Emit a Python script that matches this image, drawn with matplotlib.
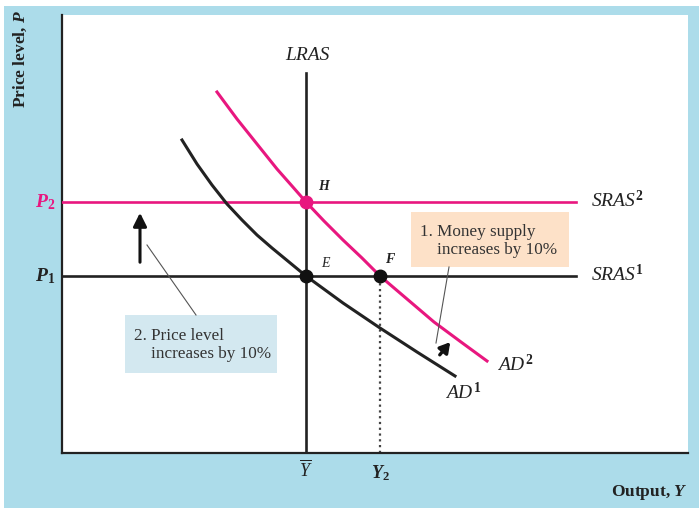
import matplotlib
matplotlib.use('Agg')
import matplotlib.pyplot as plt
from matplotlib.patches import Rectangle

plt.rcParams['font.family'] = ['Liberation Serif', 'DejaVu Serif']
plt.rcParams['mathtext.fontset'] = 'custom'
plt.rcParams['mathtext.rm'] = 'Liberation Serif'
plt.rcParams['mathtext.it'] = 'Liberation Serif:italic'
plt.rcParams['mathtext.bf'] = 'Liberation Serif:italic:bold'
plt.rcParams['mathtext.sf'] = 'Liberation Serif:bold'

PINK = '#e8177f'
BG = '#acdcea'

# levels (arbitrary units, no ticks shown)
y_bar = 244
y_2 = 318
p_1 = 177
p_2 = 251
lras_top = 380
sras_end = 514

# aggregate demand curves
ad1_x = [120, 135, 150, 165, 180, 195, 210, 227, 244, 281, 318, 355, 393]
ad1_y = [313, 289, 268, 249, 233, 218, 205, 191, 177, 150, 125, 101, 77]
ad2_x = [155, 175, 195, 215, 230, 244, 262, 281, 300, 318, 345, 372, 399, 425]
ad2_y = [361, 334, 309, 284, 267, 251, 232, 213, 195, 177, 154, 131, 111, 92]

fig = plt.figure(figsize=(6.99, 5.08), dpi=100, facecolor=BG)
fig.patches.append(Rectangle((0, 1 - 6 / 508), 1, 6 / 508, transform=fig.transFigure,
                             facecolor='white', edgecolor='none', zorder=0))
fig.patches.append(Rectangle((0, 0), 4 / 699, 1, transform=fig.transFigure,
                             facecolor='white', edgecolor='none', zorder=0))

ax = fig.add_axes([62 / 699, 55 / 508, 626 / 699, 438 / 508])
ax.set_facecolor('white')
ax.set_xlim(0, 626)
ax.set_ylim(0, 438)
ax.set_xticks([])
ax.set_yticks([])
for s in ['top', 'right']:
    ax.spines[s].set_visible(False)
for s in ['left', 'bottom']:
    ax.spines[s].set_linewidth(1.6)
    ax.spines[s].set_color('#222222')

# supply lines
ax.plot([0, sras_end], [p_1, p_1], color='#222222', lw=1.9, zorder=3)
ax.plot([0, sras_end], [p_2, p_2], color=PINK, lw=1.9, zorder=3)
ax.plot([y_bar, y_bar], [0, lras_top], color='#222222', lw=1.9, zorder=3)
ax.plot([y_2, y_2], [0, p_1], color='#444444', lw=1.6, ls=(0, (1, 1.6)), zorder=2)

# demand curves
ax.plot(ad1_x, ad1_y, color='#222222', lw=2.2, solid_joinstyle='round', zorder=4)
ax.plot(ad2_x, ad2_y, color=PINK, lw=2.2, solid_joinstyle='round', zorder=4)

# equilibrium points
ax.plot([y_bar], [p_2], 'o', color=PINK, ms=9, zorder=6)
ax.plot([y_bar, y_2], [p_1, p_1], 'o', color='#111111', ms=9, zorder=6)

it = dict(fontstyle='italic', color='#222222')
ax.text(256, 263, 'H', fontsize=10, fontweight='bold', **it)
ax.text(259, 186, 'E', fontsize=10, **it)
ax.text(323, 190, 'F', fontsize=10, fontweight='bold', **it)
ax.text(y_bar + 1, 397, 'LRAS', fontsize=14, ha='center', va='center', **it)
ax.text(529, p_2 + 2, r'$SRAS^{\mathsf{2}}$', fontsize=14, va='center', color='#222222')
ax.text(529, p_1 + 2, r'$SRAS^{\mathsf{1}}$', fontsize=14, va='center', color='#222222')
ax.text(435, 88, r'$AD^{\mathsf{2}}$', fontsize=14, va='center', color='#222222')
ax.text(383, 61, r'$AD^{\mathsf{1}}$', fontsize=14, va='center', color='#222222')

# axis value labels
ax.text(-7, p_2, r'$\mathbf{P}_{\mathsf{2}}$', fontsize=14, ha='right', va='center', color=PINK)
ax.text(-7, p_1, r'$\mathbf{P}_{\mathsf{1}}$', fontsize=14, ha='right', va='center', color='#222222')
ax.text(y_bar, -17, r'$\overline{Y}$', fontsize=13, ha='center', va='center', color='#222222')
ax.text(y_2, -20, r'$\mathbf{Y}_{\mathsf{2}}$', fontsize=13, ha='center', va='center', color='#222222')

ax.text(-42, 443, r'Price level, $\mathbf{P}$', fontsize=12.5, fontweight='bold', rotation=90,
        ha='center', va='top', color='#222222')
ax.text(626, -40, r'Output, $\mathbf{Y}$', fontsize=12.5, fontweight='bold',
        ha='right', va='center', color='#222222')

# annotation boxes
ax.add_patch(Rectangle((349, 186), 158, 55, facecolor='#fde1c8', edgecolor='none', zorder=1))
ax.text(358, 212, '1. Money supply\n    increases by 10%', fontsize=12.3, va='center',
        color='#333333', linespacing=1.1, zorder=2)
ax.add_patch(Rectangle((63, 80), 152, 58, facecolor='#d3e8f0', edgecolor='none', zorder=1))
ax.text(72, 108, '2. Price level\n    increases by 10%', fontsize=12.3, va='center',
        color='#333333', linespacing=1.1, zorder=2)

# leader lines
ax.plot([387, 374], [186, 110], color='#555555', lw=0.8, zorder=5)
ax.plot([134, 85], [138, 208], color='#555555', lw=0.8, zorder=5)

# shift arrows
ax.annotate('', xy=(78, 243), xytext=(78, 188),
            arrowprops=dict(arrowstyle='-|>,head_length=0.8,head_width=0.4',
                            color='#111111', lw=2.2), zorder=5)
ax.annotate('', xy=(390, 113), xytext=(376, 96),
            arrowprops=dict(arrowstyle='-|>,head_length=0.6,head_width=0.35',
                            color='#111111', lw=2.4), zorder=5)

for a in ax.texts:
    a.set_clip_on(False)

fig.savefig('out.png', dpi=100, facecolor=fig.get_facecolor())
